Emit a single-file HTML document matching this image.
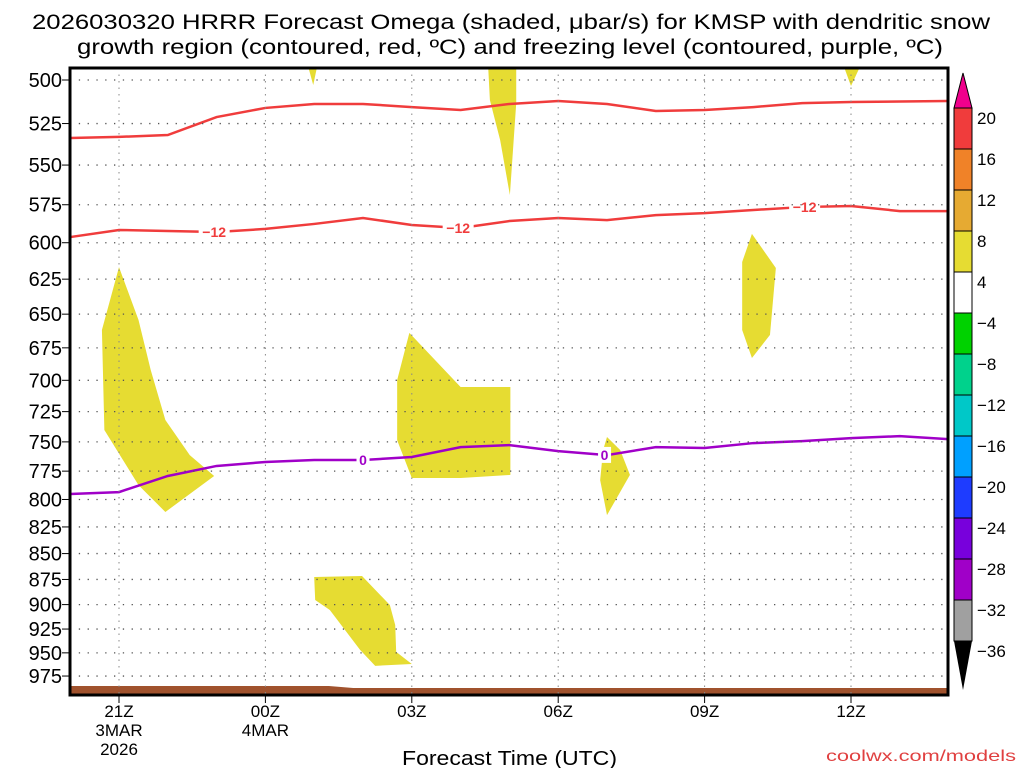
<!DOCTYPE html>
<html><head><meta charset="utf-8"><style>
body{margin:0;background:#fff;width:1024px;height:768px;overflow:hidden}
svg text{font-family:"Liberation Sans","DejaVu Sans",sans-serif}
</style></head><body>
<svg id="c" width="1024" height="768" xmlns="http://www.w3.org/2000/svg">
<text x="32" y="29" textLength="958" lengthAdjust="spacingAndGlyphs" font-size="21">2026030320 HRRR Forecast Omega (shaded, μbar/s) for KMSP with dendritic snow</text>
<text x="77" y="54" textLength="866" lengthAdjust="spacingAndGlyphs" font-size="21">growth region (contoured, red, ºC) and freezing level (contoured, purple, ºC)</text>
<g id="plot"></g>
<text x="402" y="765" textLength="215" lengthAdjust="spacingAndGlyphs" font-size="20">Forecast Time (UTC)</text>
<text x="826" y="761" textLength="190" lengthAdjust="spacingAndGlyphs" font-size="16" fill="#e04040">coolwx.com/models</text>
</svg>
<script>
const pLevels=[500,525,550,575,600,625,650,675,700,725,750,775,800,825,850,875,900,925,950,975];
const tickHours=[21,24,27,30,33,36];
const tickLabels=[["21Z","3MAR","2026"],["00Z","4MAR"],["03Z"],["06Z"],["09Z"],["12Z"]];
const upperRedH=[20,21,22,23,24,25,26,27,28,29,30,31,32,33,34,35,36,38];
const upperRedP=[533.6,532.9,531.8,521.2,515.9,513.6,513.6,515.4,517.1,513.6,511.9,513.6,517.7,517.1,515.4,513.1,512.5,511.9];
const m12H=[20,21,22,23,24,25,26,27,28,29,30,31,32,33,34,35,36,37,38];
const m12P=[596.2,591.5,592.2,592.8,590.8,587.5,583.6,588.2,590.2,585.6,583.6,585,581.7,580.4,578.4,576.5,575.8,579.1,579.1];
const zeroH=[20,21,22,23,24,25,26,27,28,29,30,31,32,33,34,35,36,37,38];
const zeroP=[795.1,793.4,779.2,770.5,767.1,765.4,765.4,762.8,754.4,752.7,757.8,761.2,754.4,755.2,751,749.4,746.9,745.2,747.7];
const shadePolys=[
 [[21,616.6],[21.4,654.3],[21.65,692],[21.95,731.8],[22.45,761.2],[22.95,779.2],[21.95,811.3],[21.4,787.2],[20.7,740.1],[20.65,661.6]],
 [[26.95,663.8],[28,705.3],[29.02,705.3],[29.02,778.3],[28,781],[27,781],[26.7,748.6],[26.7,699.9]],
 [[25,872.6],[25.98,871.6],[26.55,900.4],[26.66,920.8],[26.68,949],[27,961.9],[26.25,963.9],[25.94,946.8],[25.32,905.5],[25.02,895.4]],
 [[28.56,490],[29.14,490],[29.14,513.1],[29.01,568.8],[28.81,534.8],[28.6,511.3]],
 [[24.85,490],[25.08,490],[24.98,502.8]],
 [[35.82,490],[36.23,490],[36,503.4]],
 [[33.97,594.1],[34.46,617.2],[34.34,665.3],[33.97,682.7],[33.77,661.6],[33.77,613.1]],
 [[31,745.9],[31.27,756.9],[31.47,778.3],[31,814.1],[30.86,782.8],[30.92,756.9]]
];
const cbLevels=[20,16,12,8,4,-4,-8,-12,-16,-20,-24,-28,-32,-36];
const cbColors=["#f03c3c","#f08228","#e6aa32","#e6dc32","#ffffff","#00d200","#00d28c","#00c8c8","#00a0ff","#1e3cff","#7800dc","#a000c8","#a0a0a0"];
const L=70,R=948,T=68,B=695;
const xs=h=>119+(h-21)*48.8;
const ys=p=>80+892.5*Math.log(p/500);
const NS="http://www.w3.org/2000/svg";
const svg=document.getElementById('c'),plot=document.getElementById('plot');
function mk(t,a,par){const e=document.createElementNS(NS,t);for(const k in a)e.setAttribute(k,a[k]);(par||plot).appendChild(e);return e;}
const defs=mk('defs',{},svg);const cp=mk('clipPath',{id:'cl'},defs);mk('rect',{x:L,y:T,width:R-L,height:B-T},cp);
const g=mk('g',{'clip-path':'url(#cl)'});
shadePolys.forEach((poly,i)=>{const e=mk('polygon',{points:poly.map(q=>xs(q[0])+','+ys(q[1])).join(' '),fill:'#e6dc32'},g);

});
pLevels.forEach(p=>{const y=ys(p);const e=mk('line',{x1:L,x2:R,y1:y,y2:y,stroke:'#555','stroke-width':1.3,'stroke-dasharray':'1.3 7.5'});


mk('line',{x1:L-8,x2:L,y1:y,y2:y,stroke:'#000','stroke-width':1});
const t=mk('text',{x:62,y:y+7,'text-anchor':'end','font-size':20});t.textContent=p;

});
tickHours.forEach((h,i)=>{const x=xs(h);mk('line',{x1:x,x2:x,y1:T,y2:B,stroke:'#888','stroke-width':1,'stroke-dasharray':'1.5 5'});
mk('line',{x1:x,x2:x,y1:B,y2:B+8,stroke:'#000'});
tickLabels[i].forEach((s,j)=>{const t=mk('text',{x:x,y:B+22+j*19,'text-anchor':'middle','font-size':17});t.textContent=s;

});});
mk('polygon',{points:`${L},686 ${xs(25.3)},686 ${xs(25.8)},688 ${R},688 ${R},${B} ${L},${B}`,fill:'#a0522d'},g);
function line(H,P,col,name,labelHours,lbl){
 const pts=H.map((h,i)=>xs(h)+','+ys(P[i])).join(' ');
 const e=mk('polyline',{points:pts,fill:'none',stroke:col,'stroke-width':2.5},g);
 
 
 labelHours.forEach(lh=>{let k=0;while(k<H.length-2&&H[k+1]<lh)k++;
  const f=(lh-H[k])/(H[k+1]-H[k]);const p=P[k]+f*(P[k+1]-P[k]);
  const w=lbl.length*9+4;
  mk('rect',{x:xs(lh)-w/2,y:ys(p)-8,width:w,height:16,fill:'#fff'},g);
  const t=mk('text',{x:xs(lh),y:ys(p)+5,'text-anchor':'middle','font-size':14,'font-weight':'bold',fill:col},g);t.textContent=lbl;
  
  });
}
line(upperRedH,upperRedP,'#f03c3c','dgz-upper-contour',[],'');
line(m12H,m12P,'#f03c3c','dgz-minus12-contour',[22.95,27.95,35.05],'−12');
line(zeroH,zeroP,'#a000c8','freezing-level-contour',[26,30.95],'0');
mk('rect',{x:L,y:T,width:R-L,height:B-T,fill:'none',stroke:'#000','stroke-width':3});
const cbX=954,cbW=18,cbT=108,cbS=41;
const cb=mk('g',{},svg);
mk('polygon',{points:`${cbX},${cbT} ${cbX+cbW},${cbT} ${cbX+cbW/2},73`,fill:'#f0008c',stroke:'#000'},cb);
cbColors.forEach((c,i)=>{const e=mk('rect',{x:cbX,y:cbT+i*cbS,width:cbW,height:cbS,fill:c,stroke:'#000','stroke-width':1},cb);

});
const cbB=cbT+cbColors.length*cbS;
mk('polygon',{points:`${cbX},${cbB} ${cbX+cbW},${cbB} ${cbX+cbW/2},690`,fill:'#000'},cb);
cbLevels.forEach((v,i)=>{const t=mk('text',{x:977,y:cbT+i*cbS+16,'font-size':17},cb);t.textContent=v<0?'−'+(-v):v;

});
</script>
</body></html>
